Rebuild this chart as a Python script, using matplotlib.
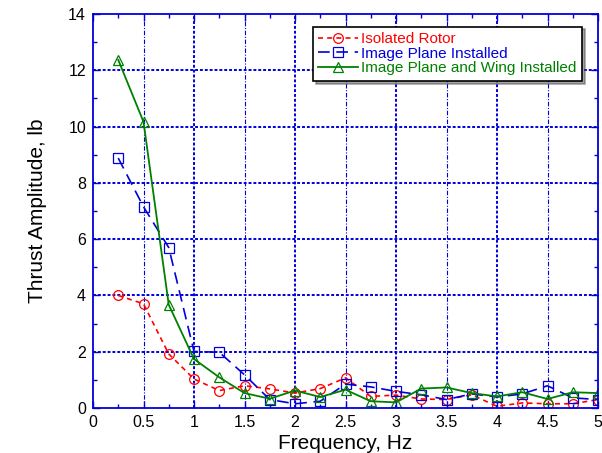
import matplotlib
matplotlib.use("Agg")
import matplotlib.pyplot as plt
from matplotlib.ticker import MultipleLocator

plt.rcParams['font.family'] = ['Liberation Sans', 'DejaVu Sans']

freq = [0.25, 0.5, 0.75, 1.0, 1.25, 1.5, 1.75, 2.0, 2.25, 2.5,
        2.75, 3.0, 3.25, 3.5, 3.75, 4.0, 4.25, 4.5, 4.75, 5.0]

isolated = [4.0, 3.7, 1.92, 1.03, 0.62, 0.79, 0.68, 0.53, 0.69, 1.07,
            0.41, 0.46, 0.32, 0.30, 0.47, 0.06, 0.18, 0.15, 0.15, 0.30]
image_plane = [8.88, 7.15, 5.70, 2.01, 1.98, 1.18, 0.30, 0.15, 0.24, 0.85,
               0.75, 0.59, 0.47, 0.30, 0.50, 0.39, 0.50, 0.79, 0.36, 0.30]
plane_wing = [12.37, 10.17, 3.67, 1.74, 1.09, 0.53, 0.33, 0.62, 0.39, 0.65,
              0.24, 0.20, 0.69, 0.73, 0.53, 0.41, 0.56, 0.32, 0.56, 0.53]

labels = ["Isolated Rotor", "Image Plane Installed", "Image Plane and Wing Installed"]
colors = ["#ff0000", "#0000dd", "#008000"]

fig = plt.figure(figsize=(6.02, 4.53), dpi=100)
ax = fig.add_axes([93 / 602, 1 - 408 / 453, (598 - 93) / 602, (408 - 14) / 453])

ax.set_xlim(0, 5)
ax.set_ylim(0, 14)

# grid: dash-dot at half-Hz, dense dotted at whole Hz and every 2 lb
for x in [0.5, 1.5, 2.5, 3.5, 4.5]:
    ax.axvline(x, color="#0000dd", lw=0.8, ls=(0, (4, 1.5, 1, 1.5)), zorder=0)
for x in [1, 2, 3, 4]:
    ax.axvline(x, color="#0000dd", lw=1.4, ls=(0, (1.5, 1)), zorder=0)
for y in [2, 4, 6, 8, 10, 12]:
    ax.axhline(y, color="#0000dd", lw=1.4, ls=(0, (1.5, 1)), zorder=0)

ax.plot(freq, isolated, color=colors[0], ls=(0, (3, 2.5)), lw=1.2,
        marker="o", ms=7, mfc="none", mec=colors[0], mew=0.9, label=labels[0])
ax.plot(freq, image_plane, color=colors[1], ls=(0, (7, 4)), lw=1.2,
        marker="s", ms=6.5, mfc="none", mec=colors[1], mew=0.9, label=labels[1])
ax.plot(freq, plane_wing, color=colors[2], ls="-", lw=1.3,
        marker="^", ms=7, mfc="none", mec=colors[2], mew=0.9, label=labels[2])

ax.xaxis.set_major_locator(MultipleLocator(0.5))
ax.xaxis.set_minor_locator(MultipleLocator(0.25))
ax.yaxis.set_major_locator(MultipleLocator(2))
ax.yaxis.set_minor_locator(MultipleLocator(1))
ax.set_xticklabels([f"{v:g}" for v in ax.get_xticks()])
ax.tick_params(which="both", direction="in", top=True, right=True,
               color="#0000dd", labelsize=11.5, pad=5)
ax.tick_params(which="major", length=5, width=1)
ax.tick_params(which="minor", length=3, width=1)
for s in ax.spines.values():
    s.set_color("#0000dd")
    s.set_linewidth(1.3)

ax.set_xlabel("Frequency, Hz", fontsize=15, labelpad=3)
ax.set_ylabel("Thrust Amplitude, lb", fontsize=15, labelpad=15)

leg = ax.legend(loc="upper right", bbox_to_anchor=(0.968, 0.968), fontsize=11,
                frameon=True, fancybox=False, shadow=True, framealpha=1,
                edgecolor="black", handlelength=2.6, handletextpad=0.2,
                borderpad=0.35, labelspacing=0.05, borderaxespad=0.0)
leg.get_frame().set_linewidth(1.2)
for t, c in zip(leg.get_texts(), colors):
    t.set_color(c)

fig.savefig("out.png", dpi=100)
